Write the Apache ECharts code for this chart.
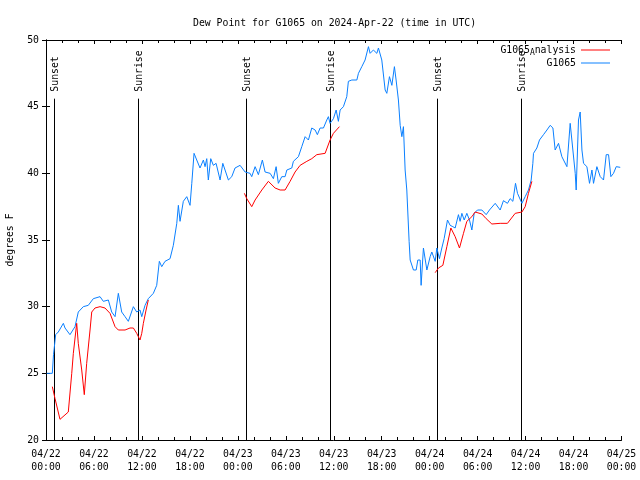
<!DOCTYPE html>
<html><head><meta charset="utf-8">
<script src="https://cdn.jsdelivr.net/npm/echarts@6/dist/echarts.min.js"></script>
<style>html,body{margin:0;padding:0;background:#fff}#c{width:640px;height:480px}</style>
</head><body><div id="c"></div>
<script>
const FONT = 'DejaVu Sans Mono';
const titleText = 'Dew Point for G1065 on 2024-Apr-22 (time in UTC)';
const yName = 'degrees F';
const tickDates = ['04/22','04/22','04/22','04/22','04/23','04/23','04/23','04/23','04/24','04/24','04/24','04/24','04/25'];
const tickTimes = ['00:00','06:00','12:00','18:00','00:00','06:00','12:00','18:00','00:00','06:00','12:00','18:00','00:00'];
const sunHours = [1.04, 11.54, 24.96, 35.54, 48.9, 59.4];
const sunLabels = ['Sunset','Sunrise','Sunset','Sunrise','Sunset','Sunrise'];

// G1065 observations: [hours since 04/22 00:00 UTC, dew point F]
const g1065 = [
[0.09,25.0],[0.79,25.0],[0.94,26.4],[1.21,27.9],[1.54,28.1],[2.17,28.75],[2.38,28.4],[3.0,27.9],[3.63,28.5],
[4.04,29.6],[4.67,30.0],[5.29,30.1],[5.92,30.6],[6.76,30.75],[7.17,30.4],[7.8,30.5],[8.22,29.6],[8.64,29.25],
[9.05,31.0],[9.47,29.6],[9.89,29.25],[10.3,28.9],[10.93,30.0],[11.35,29.6],[11.76,29.75],[11.98,29.25],
[12.39,30.1],[12.8,30.6],[13.43,31.0],[13.85,31.6],[14.18,33.4],[14.48,33.0],[14.89,33.4],[15.52,33.6],
[15.93,34.6],[16.36,36.25],[16.56,37.6],[16.77,36.4],[17.18,37.9],[17.61,38.25],[18.02,37.6],[18.24,39.25],
[18.52,41.5],[18.86,41.0],[19.27,40.4],[19.69,41.0],[19.9,40.5],[20.11,41.1],[20.31,39.5],[20.61,41.1],
[20.94,40.6],[21.28,40.75],[21.78,39.5],[22.12,40.75],[22.4,40.25],[22.82,39.5],[23.24,39.75],[23.65,40.4],
[24.28,40.6],[24.91,40.1],[25.53,40.0],[25.74,39.75],[26.16,40.5],[26.57,39.9],[27.07,41.0],[27.41,40.1],
[28.04,40.0],[28.45,39.6],[28.79,40.5],[29.07,39.25],[29.5,39.75],[29.91,39.75],[30.13,40.25],[30.75,40.4],
[30.95,40.9],[31.58,41.25],[32.0,42.0],[32.42,42.75],[32.83,42.5],[33.25,43.4],[33.67,43.25],[33.95,42.9],
[34.29,43.4],[34.71,43.4],[35.13,44.0],[35.33,44.25],[35.54,43.75],[35.96,44.1],[36.3,44.75],[36.58,43.9],
[36.8,44.75],[37.21,45.0],[37.63,45.75],[37.83,46.9],[38.26,47.0],[38.89,47.0],[39.09,47.5],[39.51,48.0],
[39.92,48.5],[40.34,49.5],[40.55,49.0],[40.96,49.25],[41.39,49.0],[41.59,49.4],[41.8,49.25],[42.01,48.5],
[42.22,48.6],[42.43,46.25],[42.64,46.0],[42.97,47.25],[43.27,46.6],[43.59,48.0],[43.8,47.0],[44.09,45.5],
[44.31,43.6],[44.52,42.75],[44.72,43.5],[44.93,40.25],[45.14,38.75],[45.43,34.9],[45.56,33.5],[45.97,32.75],
[46.31,32.75],[46.52,33.5],[46.81,33.5],[46.93,31.6],[47.22,34.4],[47.65,32.75],[48.06,33.75],[48.27,34.1],
[48.69,33.4],[48.9,34.4],[49.22,33.6],[49.52,34.4],[49.81,35.1],[50.23,36.5],[50.56,36.1],[50.9,36.0],
[51.19,35.9],[51.6,36.9],[51.81,36.4],[52.03,37.0],[52.32,36.5],[52.65,37.0],[52.98,36.5],[53.28,35.75],
[53.57,37.0],[53.98,37.25],[54.53,37.25],[55.07,36.9],[55.48,37.25],[56.2,37.75],[56.82,37.25],[57.23,37.95],
[57.73,37.75],[58.07,38.1],[58.41,37.9],[58.74,39.25],[58.99,38.5],[59.24,38.6],[59.54,37.75],[59.95,38.25],
[60.36,38.75],[60.7,39.5],[60.91,40.75],[60.99,41.5],[61.41,41.9],[61.74,42.5],[62.24,42.9],[62.67,43.25],
[63.08,43.6],[63.42,43.4],[63.7,41.75],[64.12,42.25],[64.54,41.25],[65.17,40.5],[65.58,43.75],[65.79,43.9],
[66.21,40.0],[66.33,38.75],[66.62,44.0],[66.83,44.6],[67.05,41.75],[67.25,40.75],[67.67,40.5],[68.0,39.25],
[68.3,40.25],[68.5,39.25],[68.92,40.5],[69.34,39.75],[69.75,39.5],[70.09,41.4],[70.38,41.4],[70.67,39.75],
[71.0,40.0],[71.34,40.5],[71.84,40.45]
];

// G1065 analysis, three segments
const analysis1 = [
[0.79,24.0],[1.13,23.1],[1.75,21.55],[2.79,22.1],[3.22,25.0],[3.42,26.5],[3.84,28.75],[4.04,27.25],[4.47,25.25],
[4.79,23.4],[5.09,25.75],[5.51,28.25],[5.72,29.6],[6.13,29.9],[6.76,30.0],[7.38,29.9],[8.01,29.5],[8.64,28.5],
[9.05,28.25],[9.89,28.25],[10.51,28.4],[10.93,28.4],[11.35,28.0],[11.76,27.5],[11.98,28.0],[12.18,28.75],
[12.52,29.75],[12.8,30.5]
];
const analysis2 = [
[24.82,38.5],[25.12,38.1],[25.74,37.5],[26.16,38.0],[27.0,38.75],[27.82,39.4],[28.66,38.9],[29.29,38.75],
[29.91,38.75],[30.54,39.4],[31.16,40.1],[31.79,40.6],[32.63,40.9],[33.25,41.1],[33.88,41.4],[34.92,41.5],
[35.54,42.5],[35.96,43.0],[36.71,43.5]
];
const analysis3 = [
[48.69,32.55],[49.1,32.9],[49.65,33.1],[50.15,34.5],[50.65,35.9],[51.19,35.25],[51.73,34.4],[52.23,35.5],
[52.65,36.4],[53.28,36.75],[53.69,37.1],[54.53,36.95],[55.07,36.6],[55.78,36.2],[56.82,36.25],[57.73,36.25],
[58.7,37.0],[59.54,37.1],[59.95,37.5],[60.36,38.5],[60.79,39.4]
];

const RED = '#ff0000', BLUE = '#0a80ff';
const chart = echarts.init(document.getElementById('c'), null, {renderer:'canvas'});
const tickCommon = {show:true, inside:true, length:4, lineStyle:{color:'#000', width:1}};
const minorCommon = {show:true, splitNumber:3, length:3, lineStyle:{color:'#000', width:1}};
const redLine = (d) => ({type:'line', name:'G1065_Analysis', data:d, symbol:'none', showSymbol:false, color:RED,
  lineStyle:{color:RED, width:1}, xAxisIndex:0, yAxisIndex:0, animation:false, z:3});
const legendCommon = {orient:'horizontal', align:'right', right:30, itemWidth:29, itemHeight:1, padding:0,
  icon:'rect', textStyle:{fontFamily:FONT, fontSize:9.8, color:'#000'}};

chart.setOption({
  animation:false,
  backgroundColor:'#fff',
  title:{text:titleText, left:188, top:13, textStyle:{fontFamily:FONT, fontSize:9.8, fontWeight:'normal', color:'#000'}},
  legend:[
    Object.assign({}, legendCommon, {top:45, data:['G1065_Analysis'],
      formatter: () => '{n|G1065}{s|A}{n|nalysis}',
      textStyle:{fontFamily:FONT, fontSize:9.8, color:'#000', rich:{n:{fontFamily:FONT, fontSize:9.8}, s:{fontFamily:FONT, fontSize:8, padding:[5,0,0,0]}}}}),
    Object.assign({}, legendCommon, {top:58, data:['G1065']})
  ],
  grid:{left:46, right:18.5, top:40, bottom:40, show:false, containLabel:false, outerBoundsMode:'none'},
  xAxis:[
    {type:'value', min:0, max:72, interval:6, position:'bottom',
     axisLine:{show:true, lineStyle:{color:'#000'}}, axisTick:tickCommon, minorTick:minorCommon,
     splitLine:{show:false},
     axisLabel:{fontFamily:FONT, fontSize:9.8, color:'#000', margin:8, lineHeight:13,
       formatter:(v)=>{const i=Math.round(v/6); return tickDates[i]+'\n'+tickTimes[i];}}},
    {type:'value', min:0, max:72, interval:6, position:'top',
     axisLine:{show:true, lineStyle:{color:'#000'}}, axisTick:tickCommon, minorTick:minorCommon,
     splitLine:{show:false}, axisLabel:{show:false}}
  ],
  yAxis:[
    {type:'value', min:20, max:50, interval:5, position:'left', name:yName, nameLocation:'middle', nameGap:31,
     nameTextStyle:{fontFamily:FONT, fontSize:9.8, color:'#000'},
     axisLine:{show:true, lineStyle:{color:'#000'}}, axisTick:tickCommon, splitLine:{show:false},
     axisLabel:{fontFamily:FONT, fontSize:9.8, color:'#000', margin:7}},
    {type:'value', min:20, max:50, interval:5, position:'right',
     axisLine:{show:true, lineStyle:{color:'#000'}}, axisTick:tickCommon, splitLine:{show:false},
     axisLabel:{show:false}}
  ],
  series:[
    {type:'custom', name:'sun', xAxisIndex:0, yAxisIndex:0, clip:false, silent:true, z:2,
     data: sunHours.map(h=>[h]),
     renderItem:(params, api)=>{
       const h = api.value(0);
       const bot = api.coord([h,20]);
       const top = api.coord([h,45.6]);
       const x = Math.round(bot[0]) + 0.5;
       return {type:'group', children:[
         {type:'line', shape:{x1:x, y1:bot[1], x2:x, y2:top[1]}, style:{stroke:'#000', lineWidth:1}},
         {type:'text', x:x+1, y:top[1]-7, rotation:Math.PI/2,
          style:{text:sunLabels[params.dataIndex], fontFamily:FONT, fontSize:9.8, fill:'#000', textAlign:'left', textVerticalAlign:'middle'}}
       ]};
     }},
    redLine(analysis1), redLine(analysis2), redLine(analysis3),
    {type:'line', name:'G1065', data:g1065, symbol:'none', showSymbol:false, color:BLUE, lineStyle:{color:BLUE, width:1}, z:2}
  ]
});
</script></body></html>
